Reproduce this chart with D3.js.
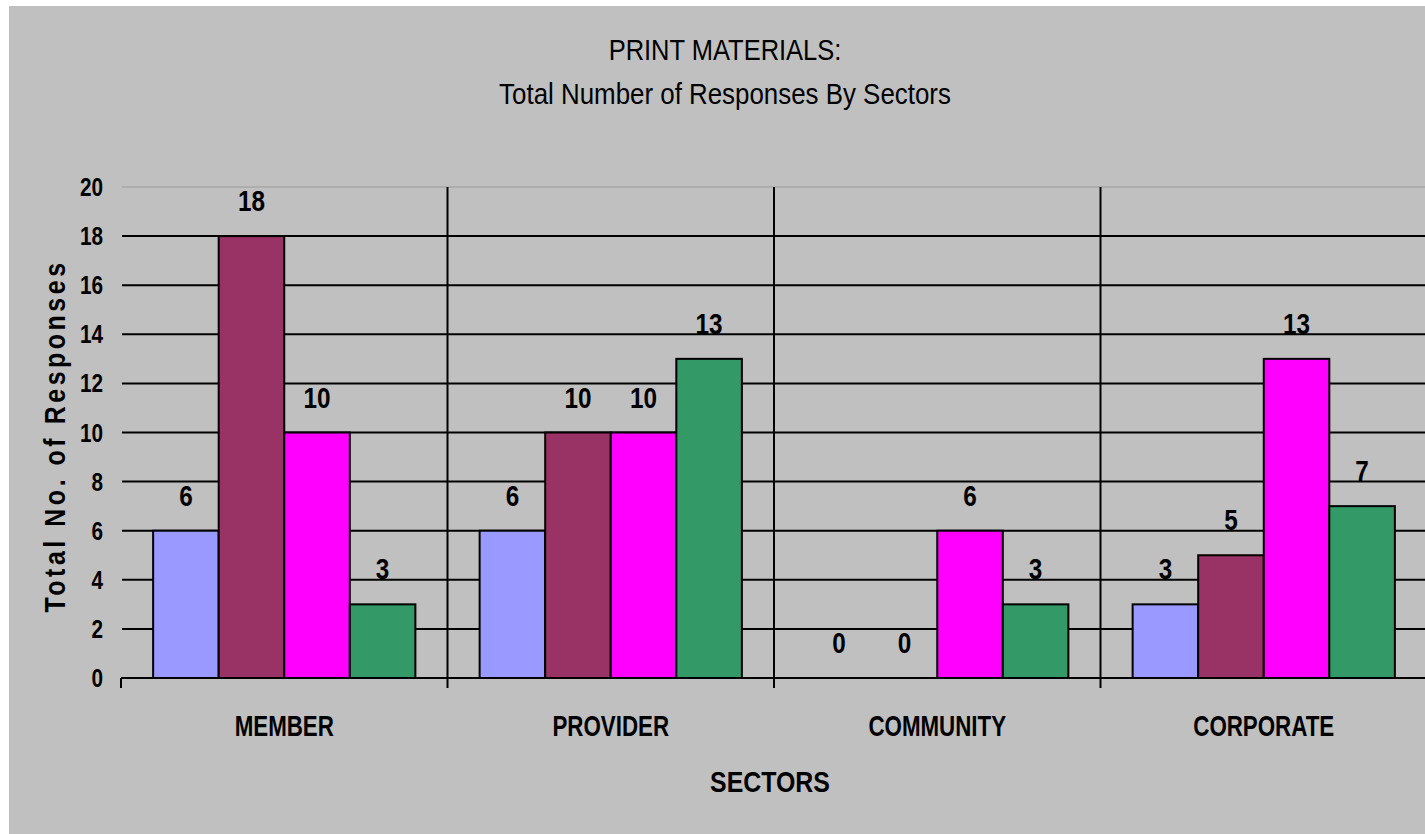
<!DOCTYPE html>
<html><head><meta charset="utf-8">
<script src="https://cdn.jsdelivr.net/npm/d3@7"></script>
<style>html,body{margin:0;padding:0;background:#fff;overflow:hidden}</style>
</head><body>
<script>
const categories = ["MEMBER", "PROVIDER", "COMMUNITY", "CORPORATE"];
const seriesNames = ["Series 1", "Series 2", "Series 3", "Series 4"];
const series1 = [6, 6, 0, 3];
const series2 = [18, 10, 0, 5];
const series3 = [10, 10, 6, 13];
const series4 = [3, 13, 3, 7];
const colors = ["#9999ff", "#993366", "#ff00ff", "#339966"];
const yTicks = [0, 2, 4, 6, 8, 10, 12, 14, 16, 18, 20];
const titleLines = ["PRINT MATERIALS:", "Total Number of Responses By Sectors"];
const xTitle = "SECTORS";
const yTitle = "Total No. of Responses";

(function () {
const W = 1425, H = 834;
const svg = d3.select("body").append("svg").attr("width", W).attr("height", H);
svg.append("rect").attr("x", 9).attr("y", 6).attr("width", W).attr("height", H).attr("fill", "#c0c0c0");

const pLeft = 121, plotW = 1306, pTop = 187, pBottom = 678;
const x0 = d3.scaleBand().domain(categories).range([pLeft, pLeft + plotW]).paddingInner(0).paddingOuter(0);
const x1 = d3.scaleBand().domain(seriesNames).range([0, x0.bandwidth()]).paddingOuter(0.49).paddingInner(0);
const y = d3.scaleLinear().domain([0, 20]).range([pBottom, pTop]);
const font = "'Liberation Sans', Arial, sans-serif";
const tr = (tx, ty, sx, rot) => `translate(${tx},${ty})` + (rot ? ` rotate(${rot})` : "") + ` scale(${sx},1)`;

// gridlines
svg.append("g").selectAll("line").data(yTicks.filter(d => d > 0)).join("line")
  .attr("x1", pLeft + 1).attr("x2", W).attr("y1", d => y(d)).attr("y2", d => y(d))
  .attr("stroke", d => d === 20 ? "#9a9a9a" : "#000").attr("stroke-width", d => d === 20 ? 1 : 2);

// category separators
svg.append("g").selectAll("line").data(categories.slice(1)).join("line")
  .attr("x1", d => x0(d)).attr("x2", d => x0(d)).attr("y1", pTop).attr("y2", pBottom + 10)
  .attr("stroke", "#000").attr("stroke-width", 2);
svg.append("line").attr("x1", pLeft).attr("x2", pLeft).attr("y1", pBottom).attr("y2", pBottom + 10)
  .attr("stroke", "#000").attr("stroke-width", 2);

const data = categories.map((c, i) => ({c, vals: [series1[i], series2[i], series3[i], series4[i]]}));
const groups = svg.append("g").selectAll("g").data(data).join("g")
  .attr("transform", d => `translate(${x0(d.c)},0)`);
groups.selectAll("rect").data(d => d.vals.map((v, j) => ({v, s: seriesNames[j], j})).filter(e => e.v > 0)).join("rect")
  .attr("x", d => x1(d.s)).attr("width", x1.bandwidth())
  .attr("y", d => y(d.v)).attr("height", d => y(0) - y(d.v))
  .attr("fill", d => colors[d.j]).attr("stroke", "#000").attr("stroke-width", 2);
groups.selectAll("text").data(d => d.vals.map((v, j) => ({v, s: seriesNames[j], j}))).join("text")
  .attr("transform", d => tr(x1(d.s) + x1.bandwidth() / 2, y(d.v) - 25, 0.81))
  .attr("text-anchor", "middle").attr("font-family", font).attr("font-weight", "bold")
  .attr("font-size", 30).text(d => d.v);

// x axis baseline
svg.append("line").attr("x1", pLeft).attr("x2", W).attr("y1", pBottom).attr("y2", pBottom)
  .attr("stroke", "#000").attr("stroke-width", 2);

// y tick labels
svg.append("g").selectAll("text").data(yTicks).join("text")
  .attr("transform", d => tr(103, y(d) + 9, 0.83)).attr("text-anchor", "end")
  .attr("font-family", font).attr("font-weight", "bold").attr("font-size", 25).text(d => d);

// category labels
svg.append("g").selectAll("text").data(categories).join("text")
  .attr("transform", d => tr(x0(d) + x0.bandwidth() / 2, 736, 0.77)).attr("text-anchor", "middle")
  .attr("font-family", font).attr("font-weight", "bold").attr("font-size", 29).text(d => d);

svg.append("text").attr("transform", tr(770, 792, 0.83)).attr("text-anchor", "middle")
  .attr("font-family", font).attr("font-weight", "bold").attr("font-size", 30).text(xTitle);

svg.append("text").attr("transform", tr(65, 436, 0.83, -90)).attr("text-anchor", "middle")
  .attr("font-family", font).attr("font-weight", "bold").attr("font-size", 30)
  .attr("letter-spacing", 4.3).text(yTitle);

svg.append("g").selectAll("text").data(titleLines).join("text")
  .attr("transform", (d, i) => tr(725, 60 + i * 44, i === 0 ? 0.85 : 0.863)).attr("text-anchor", "middle")
  .attr("font-family", font).attr("font-size", 30).text(d => d);
})();
</script>
</body></html>
